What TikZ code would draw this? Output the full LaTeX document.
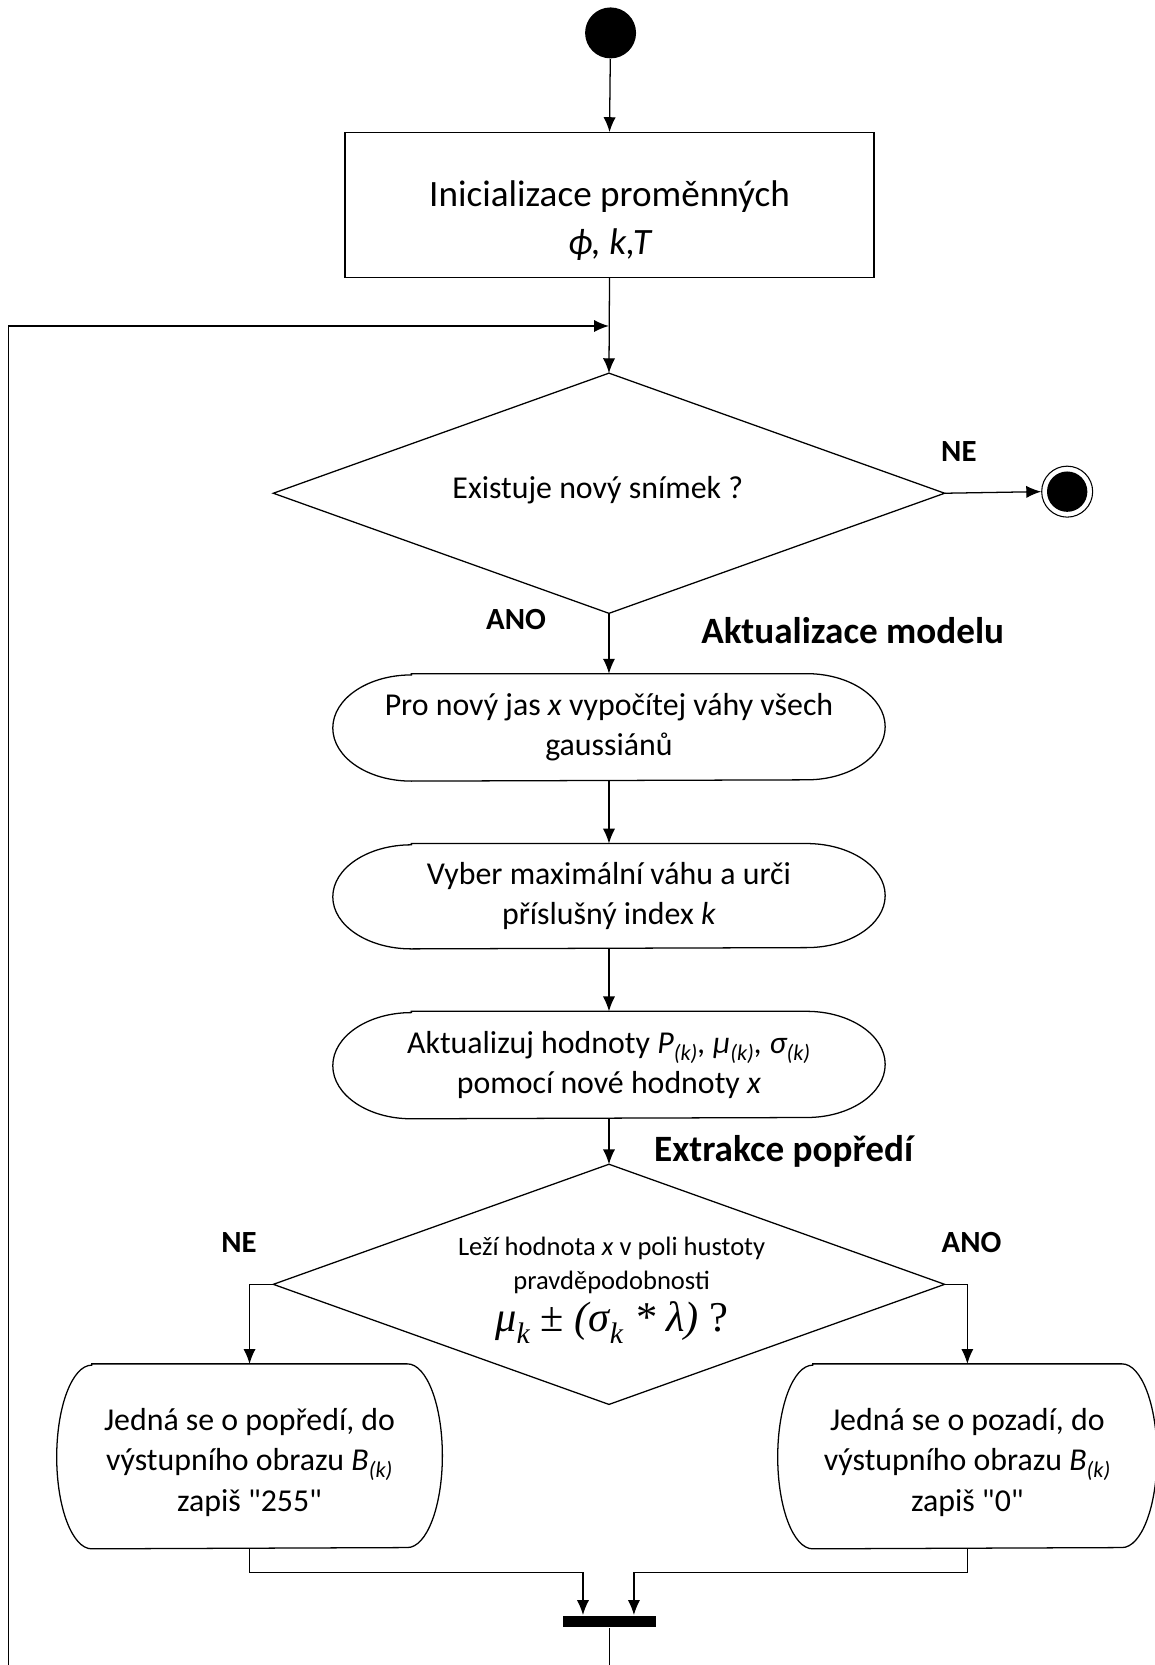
\documentclass[tikz,border=0pt]{standalone}
\usepackage{fontspec}
\setmainfont{Carlito}
\newfontfamily\tnr{Liberation Serif}
\newcommand\strq{\XeTeXglyph\XeTeXcharglyph"22\relax}
\usetikzlibrary{arrows.meta,calc}
\begin{document}
\begin{tikzpicture}[x=1pt,y=1pt,
  line width=1.2pt,
  arr/.style={-{Latex[length=14pt,width=11.5pt]}},
  holder/.style={draw=none,inner sep=0pt,align=center},
  btxt/.style={font=\fontsize{30}{38}\selectfont},
  lbl/.style={font=\fontsize{29}{32}\selectfont\bfseries},
  head/.style={font=\fontsize{35}{40}\selectfont\bfseries}]
\useasboundingbox (0,0) rectangle (1087,-1568);

% start
\node[circle,fill=black,minimum size=48pt,inner sep=0pt] (start) at (575,-31) {};
% init
\node[draw,rectangle,minimum width=498pt,minimum height=136pt] (init) at (574,-193) {};
\node[holder,font=\fontsize{35}{45}\selectfont] (initt) at (574,-208)
  {Inicializace proměnných\\ \itshape ϕ, k,T};

% decision 1
\node[holder,minimum width=631pt,minimum height=225pt] (d1) at (573.5,-464.5) {};
\draw (d1.north) -- (d1.east) -- (d1.south) -- (d1.west) -- cycle;
\node[holder,btxt] (d1t) at (563,-462) {Existuje nový snímek ?};

% end node
\node[circle,draw,minimum size=48pt,inner sep=0pt,line width=1pt] (endo) at (1005,-463) {};
\node[circle,fill=black,minimum size=38pt,inner sep=0pt] (endi) at (endo) {};

% box 1
\node[holder,minimum width=519pt,minimum height=100pt,btxt] (b1) at (573.5,-685)
  {Pro nový jas \textit{x} vypočítej váhy všech\\gaussiánů};
\draw ([xshift=74pt]b1.north west) -- ([xshift=-74pt]b1.north east)
  arc[start angle=90,end angle=-90,x radius=74pt,y radius=50pt]
  -- ([xshift=74pt]b1.south west)
  arc[start angle=270,end angle=90,x radius=74pt,y radius=50pt] -- cycle;

% box 2
\node[holder,minimum width=519pt,minimum height=98pt,btxt] (b2) at (573.5,-844)
  {Vyber maximální váhu a urči\\příslušný index \textit{k}};
\draw ([xshift=74pt]b2.north west) -- ([xshift=-74pt]b2.north east)
  arc[start angle=90,end angle=-90,x radius=74pt,y radius=49pt]
  -- ([xshift=74pt]b2.south west)
  arc[start angle=270,end angle=90,x radius=74pt,y radius=49pt] -- cycle;

% box 3
\node[holder,minimum width=519pt,minimum height=100pt,btxt] (b3) at (573.5,-1003)
  {Aktualizuj hodnoty \textit{P\textsubscript{(k)}, μ\textsubscript{(k)}, σ\textsubscript{(k)}}\\pomocí nové hodnoty \textit{x}};
\draw ([xshift=74pt]b3.north west) -- ([xshift=-74pt]b3.north east)
  arc[start angle=90,end angle=-90,x radius=74pt,y radius=50pt]
  -- ([xshift=74pt]b3.south west)
  arc[start angle=270,end angle=90,x radius=74pt,y radius=50pt] -- cycle;

% decision 2
\node[holder,minimum width=631pt,minimum height=225pt] (d2) at (573.5,-1209.5) {};
\draw (d2.north) -- (d2.east) -- (d2.south) -- (d2.west) -- cycle;
\node[holder,font=\fontsize{25}{32}\selectfont] (d2t) at (576,-1215)
  {Leží hodnota \textit{x} v poli hustoty\\pravděpodobnosti\\[7pt]
   \tnr\fontsize{40}{42}\selectfont\textit{μ\textsubscript{k}} ± \textit{(σ\textsubscript{k} * λ)} ?};

% bottom left box
\node[holder,minimum width=362pt,minimum height=173pt] (lb) at (235,-1371.5) {};
\draw ([xshift=33pt]lb.north west) -- ([xshift=-33pt]lb.north east)
  arc[start angle=90,end angle=-90,x radius=33pt,y radius=86.5pt]
  -- ([xshift=33pt]lb.south west)
  arc[start angle=270,end angle=90,x radius=33pt,y radius=86.5pt] -- cycle;
\node[holder,btxt] (lbt) at (235,-1377)
  {Jedná se o popředí, do\\výstupního obrazu \textit{B\textsubscript{(k)}}\\zapiš \strq255\strq};

% bottom right box
\node[holder,minimum width=356pt,minimum height=173pt] (rb) at (911,-1371.5) {};
\draw ([xshift=33pt]rb.north west) -- ([xshift=-33pt]rb.north east)
  arc[start angle=90,end angle=-90,x radius=33pt,y radius=86.5pt]
  -- ([xshift=33pt]rb.south west)
  arc[start angle=270,end angle=90,x radius=33pt,y radius=86.5pt] -- cycle;
\node[holder,btxt] (rbt) at (911,-1377)
  {Jedná se o pozadí, do\\výstupního obrazu \textit{B\textsubscript{(k)}}\\zapiš \strq0\strq};

% join bar
\node[rectangle,fill=black,minimum width=88pt,minimum height=11pt,inner sep=0pt] (bar) at (574,-1527) {};

% labels
\node[lbl] (ne1) at (903,-425) {NE};
\node[lbl] (ano1) at (486,-583) {ANO};
\node[head] (h1) at (803,-594) {Aktualizace modelu};
\node[head] (h2) at (738,-1084) {Extrakce popředí};
\node[lbl] (ne2) at (225,-1170) {NE};
\node[lbl] (ano2) at (915,-1170) {ANO};

% coordinates
\coordinate (loopbot) at (8,-1568);
\coordinate (loopcorner) at (8,-307);
\coordinate (loopjoin) at (573.5,-307);
\coordinate (barbot) at (574,-1568);

% connectors
\draw[arr] (start) -- (init.north);
\draw[arr] (init.south) -- (d1.north);
\draw[arr,line width=1.6pt] (loopbot) -- (loopcorner) -- (loopjoin);
\draw[arr] (d1.east) -- (endo.west);
\draw[arr] (d1.south) -- (b1.north);
\draw[arr] (b1.south) -- (b2.north);
\draw[arr] (b2.south) -- (b3.north);
\draw[arr] (b3.south) -- (d2.north);
\draw[arr] (d2.west) -| (lb.north);
\draw[arr] (d2.east) -| (rb.north);
\draw[arr] (lb.south) -- ++(0,-22) -| ([xshift=-25pt]bar.north);
\draw[arr] (rb.south) -- ++(0,-22) -| ([xshift=23pt]bar.north);
\draw (bar.south) -- (barbot);
\end{tikzpicture}
\end{document}
